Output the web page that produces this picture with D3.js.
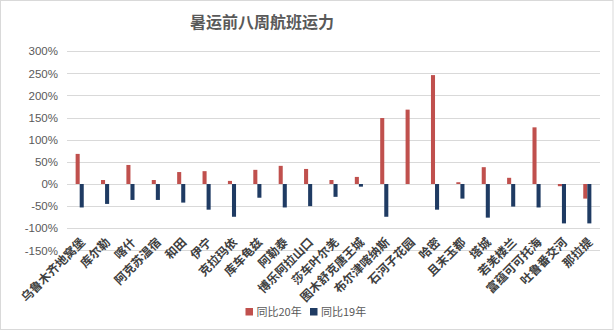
<!DOCTYPE html>
<html>
<head>
<meta charset="utf-8">
<script src="https://cdn.jsdelivr.net/npm/d3@7"></script>
<style>
  html, body { margin: 0; padding: 0; background: #fff; }
  svg { display: block; }
</style>
</head>
<body>
<svg id="chart" width="615" height="331"></svg>
<script>
const title = "暑运前八周航班运力";
const categories = ["乌鲁木齐地窝堡", "库尔勒", "喀什", "阿克苏温宿", "和田", "伊宁", "克拉玛依", "库车龟兹", "阿勒泰", "博乐阿拉山口", "莎车叶尔羌", "图木舒克唐王城", "布尔津喀纳斯", "石河子花园", "哈密", "且末玉都", "塔城", "若羌楼兰", "富蕴可可托海", "吐鲁番交河", "那拉提"];
const seriesNames = ["同比20年", "同比19年"];
const vs20 = [68, 9, 43, 9, 27, 29, 7, 32, 41, 34, 9, 16, 149, 168, 246, 4, 38, 14, 128, -5, -33];
const vs19 = [-53, -45, -36, -36, -42, -58, -74, -31, -53, -50, -29, -6, -74, 0, -58, -33, -76, -51, -53, -89, -89];
const yTicks = [300, 250, 200, 150, 100, 50, 0, -50, -100, -150];
const colors = ["#c0504d", "#1f3b63"];

const svg = d3.select("#chart");
const W = 615, H = 331;
const plot = { left: 67, right: 600, top: 51.2, bottom: 250.4 };

svg.append("rect").attr("x", 0.5).attr("y", 0.5).attr("width", 612.5).attr("height", 329)
  .attr("fill", "#fff").attr("stroke", "#d9d9d9");

const x0 = d3.scaleBand().domain(categories).range([plot.left, plot.right])
  .paddingInner(0.68).paddingOuter(0.34);
const x1 = d3.scaleBand().domain(seriesNames).range([0, x0.bandwidth()]);
const y = d3.scaleLinear().domain([-150, 300]).range([plot.bottom, plot.top]);

// gridlines
svg.append("g").selectAll("line").data(yTicks).join("line")
  .attr("x1", plot.left).attr("x2", plot.right)
  .attr("y1", d => Math.round(y(d)) + 0.5).attr("y2", d => Math.round(y(d)) + 0.5)
  .attr("stroke", "#d9d9d9").attr("stroke-width", 1);

// y axis labels
const yAxis = d3.axisLeft(y).tickValues(yTicks).tickSize(0).tickPadding(0)
  .tickFormat(d => d + "%");
const ga = svg.append("g").attr("transform", `translate(58,0)`).call(yAxis);
ga.select(".domain").remove();
ga.selectAll("text").attr("font-family", "Liberation Sans, Arial, sans-serif")
  .attr("font-size", 11.5).attr("fill", "#595959");

// bars
const series = [vs20, vs19];
series.forEach((vals, si) => {
  svg.append("g").selectAll("rect").data(categories).join("rect")
    .attr("x", (c) => x0(c) + x1(seriesNames[si]))
    .attr("width", x1.bandwidth())
    .attr("y", (c, i) => y(Math.max(0, vals[i])))
    .attr("height", (c, i) => Math.abs(y(vals[i]) - y(0)))
    .attr("fill", colors[si]);
});

// x labels
svg.append("g").selectAll("text").data(categories).join("text")
  .attr("transform", c => `translate(${x0(c) + x0.bandwidth() / 2 + 6},${243}) rotate(-45)`)
  .attr("text-anchor", "end")
  .attr("font-family", "Noto Sans CJK SC, sans-serif")
  .attr("font-weight", 700)
  .attr("font-size", 12)
  .attr("fill", "#404040")
  .text(c => c);

// title
svg.append("text").attr("x", 262).attr("y", 28).attr("text-anchor", "middle")
  .attr("font-family", "Noto Sans CJK SC, sans-serif").attr("font-weight", 700)
  .attr("font-size", 16).attr("fill", "#595959").text(title);

// legend
const legend = [{ x: 245.5, name: seriesNames[0], c: colors[0] }, { x: 310, name: seriesNames[1], c: colors[1] }];
const lg = svg.append("g");
lg.selectAll("rect").data(legend).join("rect")
  .attr("x", d => d.x).attr("y", 308).attr("width", 7.5).attr("height", 7.5).attr("fill", d => d.c);
lg.selectAll("text").data(legend).join("text")
  .attr("x", d => d.x + 11).attr("y", 316)
  .attr("font-family", "Noto Sans CJK SC, sans-serif").attr("font-size", 11)
  .attr("fill", "#595959").text(d => d.name);
</script>
</body>
</html>
